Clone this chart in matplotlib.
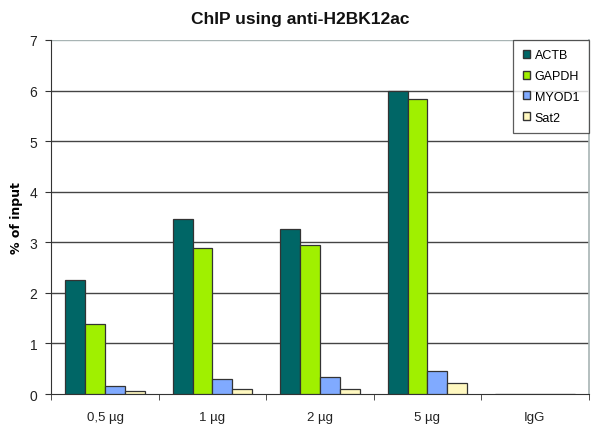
import numpy as np
import matplotlib
matplotlib.use('Agg')
import matplotlib.pyplot as plt
from matplotlib.patches import Patch

plt.rcParams['font.family'] = ['Liberation Sans', 'DejaVu Sans']

# ── Data ───────────────────────────────────────────────────────────────
CATEGORIES = ['0,5 µg', '1 µg', '2 µg', '5 µg', 'IgG']
SERIES = ['ACTB', 'GAPDH', 'MYOD1', 'Sat2']
ACTB  = [2.26, 3.46, 3.26, 6.00, 0.0]
GAPDH = [1.38, 2.88, 2.95, 5.83, 0.0]
MYOD1 = [0.16, 0.30, 0.34, 0.46, 0.0]
SAT2  = [0.05, 0.10, 0.10, 0.22, 0.0]
YTICKS = list(range(0, 8))

COLORS = ['#006666', '#A0F000', '#80AAFF', '#FFF8C0']

# ── Plot ───────────────────────────────────────────────────────────────
fig = plt.figure(figsize=(6.0, 4.31), dpi=100)
fig.patch.set_facecolor('white')
ax = fig.add_axes([0.0855, 0.0835, 0.8955, 0.8215])

bw = 0.185
x = np.arange(len(CATEGORIES)) + 0.5
for k, (name, vals) in enumerate(zip(SERIES, [ACTB, GAPDH, MYOD1, SAT2])):
    ax.bar(x + (k - 1.5) * bw, vals, width=bw, color=COLORS[k],
           edgecolor='#333333', linewidth=0.9, zorder=3, label=name)

ax.set_xlim(0, len(CATEGORIES))
ax.set_ylim(0, 7)
ax.set_yticks(YTICKS)
for y in YTICKS[1:-1]:
    ax.axhline(y, color='#444444', lw=1.0, zorder=1)
ax.axhline(7, color='#A8B4B4', lw=1.0, zorder=1)

ax.spines['top'].set_visible(False)
ax.spines['right'].set_color('#A8B4B4')
ax.spines['right'].set_linewidth(1.2)
ax.spines['left'].set_color('#333333')
ax.spines['bottom'].set_color('#333333')

ax.set_xticks(x)
ax.set_xticklabels(CATEGORIES, fontsize=9.5, color='#222222')
ax.set_xticks(np.arange(0, len(CATEGORIES) + 1), minor=True)
ax.tick_params(axis='x', which='major', length=0, pad=12)
ax.tick_params(axis='x', which='minor', length=4, color='#333333')
ax.tick_params(axis='y', labelsize=10, length=4, color='#333333',
               labelcolor='#222222', pad=6)

ax.set_ylabel('% of input', fontsize=9, fontweight='bold', labelpad=5,
              family='DejaVu Sans')
fig.text(0.5, 0.955, 'ChIP using anti-H2BK12ac', ha='center', va='center',
         fontsize=12.5, fontweight='bold', color='#111111')

handles = [Patch(facecolor=c, edgecolor='#333333', label=s)
           for c, s in zip(COLORS, SERIES)]
leg = ax.legend(handles=handles, loc='upper right', fontsize=9,
                frameon=True, fancybox=False, edgecolor='#333333',
                handlelength=0.6, handleheight=0.6, handletextpad=0.35,
                labelspacing=0.7, borderaxespad=0.0, borderpad=0.75)
leg.get_frame().set_linewidth(0.9)

fig.savefig('out.png', dpi=100, facecolor='white')
